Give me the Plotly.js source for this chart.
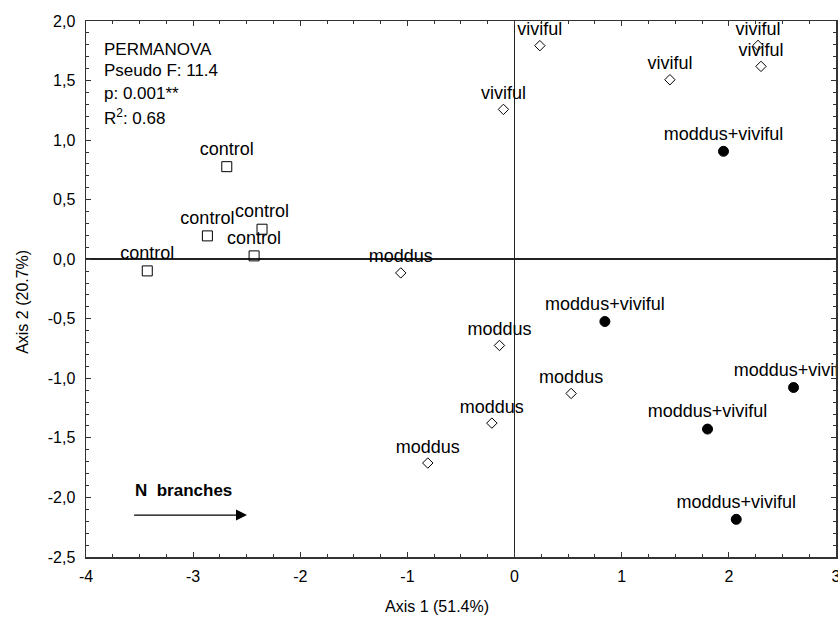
<!DOCTYPE html>
<html>
<head>
<meta charset="utf-8">
<script src="https://cdn.plot.ly/plotly-3.0.1.min.js"></script>
<style>html,body{margin:0;padding:0;background:#fff;}#chart{width:838px;height:620px;}</style>
</head>
<body>
<div id="chart"></div>
<script>
// ---- data ----
const controlX = [-2.686, -2.867, -2.357, -2.431, -3.428];
const controlY = [0.777, 0.196, 0.252, 0.028, -0.098];
const moddusX = [-1.062, -0.141, 0.528, -0.212, -0.810];
const moddusY = [-0.115, -0.724, -1.127, -1.376, -1.711];
const vivifulX = [0.236, -0.104, 1.450, 2.272, 2.300];
const vivifulY = [1.793, 1.258, 1.507, 1.795, 1.619];
const mvX = [1.950, 0.843, 2.604, 1.801, 2.069];
const mvY = [0.906, -0.523, -1.077, -1.426, -2.184];
const groupNames = ['control', 'moddus', 'viviful', 'moddus+viviful'];

const xTickVals = [-4, -3, -2, -1, 0, 1, 2, 3];
const xTickText = ['-4', '-3', '-2', '-1', '0', '1', '2', '3'];
const yTickVals = [2.0, 1.5, 1.0, 0.5, 0.0, -0.5, -1.0, -1.5, -2.0, -2.5];
const yTickText = ['2,0', '1,5', '1,0', '0,5', '0,0', '-0,5', '-1,0', '-1,5', '-2,0', '-2,5'];

const statLines = ['PERMANOVA', 'Pseudo F: 11.4', 'p: 0.001**', 'R<sup>2</sup>: 0.68'];
const statY = [1.761, 1.581, 1.391, 1.190];
const arrowLabel = '<b>N  branches</b>';
const arrowFrom = [-3.565, -2.148];
const arrowTo = [-2.497, -2.148];

const xTitle = 'Axis 1 (51.4%)';
const yTitle = 'Axis 2 (20.7%)';

// ---- chart ----
const FONT = 'Arial, "Liberation Sans", sans-serif';
const LABEL_FONT = {family: FONT, size: 18, color: '#000'};

function trace(x, y, name, symbol, size) {
  return {
    x: x, y: y, name: name, type: 'scatter', mode: 'markers+text',
    text: x.map(() => name), textposition: 'top center', textfont: LABEL_FONT,
    marker: {symbol: symbol, size: size, color: '#000', line: {color: '#000', width: 1}},
    cliponaxis: true, showlegend: false, hoverinfo: 'skip'
  };
}

const data = [
  trace(controlX, controlY, groupNames[0], 'square-open', 10),
  trace(moddusX, moddusY, groupNames[1], 'diamond-open', 8),
  trace(vivifulX, vivifulY, groupNames[2], 'diamond-open', 8),
  trace(mvX, mvY, groupNames[3], 'circle', 10)
];

const axisCommon = {
  showline: true, linecolor: '#333', linewidth: 1.5, mirror: 'ticks',
  ticks: 'inside', ticklen: 5, tickcolor: '#333', tickwidth: 1,
  showgrid: false, zeroline: true, zerolinecolor: '#222', zerolinewidth: 1.5,
  tickfont: {family: FONT, size: 16, color: '#000'},
  tickmode: 'array', ticklabeloverflow: 'allow'
};

const annotations = statLines.map((t, i) => ({
  x: -3.853, y: statY[i], xref: 'x', yref: 'y', text: t, showarrow: false,
  xanchor: 'left', yanchor: 'middle', font: {family: FONT, size: 17, color: '#000'}
}));
annotations.push({
  x: arrowFrom[0], y: -1.94, xref: 'x', yref: 'y', text: arrowLabel, showarrow: false,
  xanchor: 'left', yanchor: 'middle', font: {family: FONT, size: 17, color: '#000'}
});
annotations.push({
  x: arrowTo[0], y: arrowTo[1], ax: arrowFrom[0], ay: arrowFrom[1],
  xref: 'x', yref: 'y', axref: 'x', ayref: 'y', text: '', showarrow: true,
  arrowhead: 2, arrowsize: 1.7, arrowwidth: 1.3, arrowcolor: '#000'
});
annotations.push({
  x: 0.468, y: -0.093, xref: 'paper', yref: 'paper', text: xTitle, showarrow: false,
  xanchor: 'center', yanchor: 'middle', font: {family: FONT, size: 16, color: '#000'}
});
annotations.push({
  x: -0.084, y: 0.476, xref: 'paper', yref: 'paper', text: yTitle, showarrow: false,
  textangle: -90, xanchor: 'center', yanchor: 'middle', font: {family: FONT, size: 16, color: '#000'}
});

const layout = {
  width: 838, height: 620,
  margin: {l: 86, r: 2, t: 21, b: 63},
  paper_bgcolor: '#fff', plot_bgcolor: '#fff',
  separators: ', ',
  showlegend: false,
  xaxis: Object.assign({}, axisCommon, {
    range: [-4, 3.0001], tickvals: xTickVals, ticktext: xTickText,
    ticklabelstandoff: 4,
    minor: {dtick: 0.25, tick0: 0, ticks: 'inside', ticklen: 3, tickcolor: '#333', showgrid: false}
  }),
  yaxis: Object.assign({}, axisCommon, {
    range: [-2.5, 2.0], tickvals: yTickVals, ticktext: yTickText,
    ticklabelstandoff: 6,
    minor: {dtick: 0.1, tick0: 0, ticks: 'inside', ticklen: 3, tickcolor: '#333', showgrid: false}
  }),
  annotations: annotations
};

Plotly.newPlot('chart', data, layout, {displayModeBar: false, staticPlot: true});
</script>
</body>
</html>
